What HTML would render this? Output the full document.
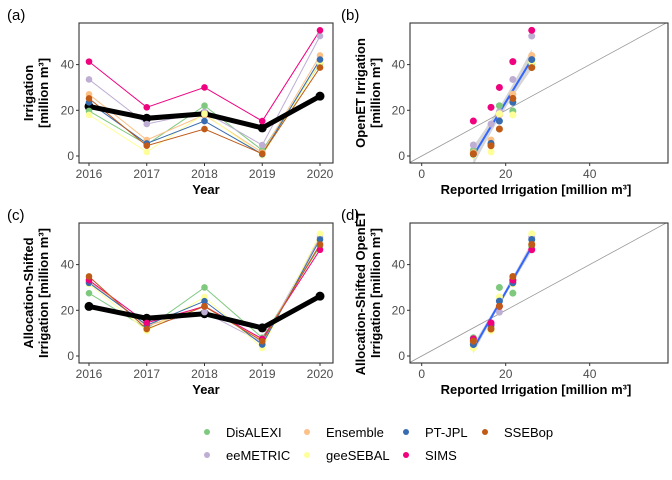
<!DOCTYPE html>
<html><head><meta charset="utf-8">
<style>
body{margin:0;background:#fff;}
svg{display:block;font-family:"Liberation Sans",Arial,sans-serif;}
.tick{font-size:12px;fill:#4d4d4d;}
.ttl{font-size:13px;font-weight:bold;fill:#000;}
.tag{font-size:15px;fill:#000;}
.leg{font-size:13px;fill:#000;}
</style></head>
<body>
<svg id="chart" width="672" height="480" viewBox="0 0 672 480" xmlns="http://www.w3.org/2000/svg"></svg>
<script>
const years=[2016,2017,2018,2019,2020];
const reported=[21.7,16.5,18.5,12.3,26.2];
const models=["DisALEXI","eeMETRIC","Ensemble","geeSEBAL","PT-JPL","SIMS","SSEBop"];
const colors=["#7fc97f","#beaed4","#fdc086","#ffff99","#386cb0","#f0027f","#bf5b17"];
const openet=[
 [19.7,5.0,22.0,2.5,40.5],
 [33.5,14.0,19.3,4.8,52.5],
 [27.0,7.0,18.0,1.5,44.0],
 [18.0,1.8,18.5,0.3,41.0],
 [23.5,5.5,15.3,0.8,42.2],
 [41.3,21.3,30.0,15.3,55.0],
 [25.2,4.5,11.8,1.0,38.7]];
const shifted=[
 [27.5,12.0,30.0,8.0,48.0],
 [32.5,13.5,19.2,6.0,52.0],
 [33.0,13.0,22.0,7.0,49.0],
 [31.5,11.0,25.8,3.5,53.5],
 [32.0,13.5,24.0,5.0,51.0],
 [33.2,14.5,21.7,7.5,46.5],
 [34.8,11.8,21.7,6.5,48.8]];
const yTicks=[0,20,40];
const xTicksB=[0,20,40];
const legOrder=[["DisALEXI","Ensemble","PT-JPL","SSEBop"],["eeMETRIC","geeSEBAL","SIMS"]];

const svg=document.getElementById('chart');
const NS="http://www.w3.org/2000/svg";
function mk(tag,attrs,parent,name){const e=document.createElementNS(NS,tag);for(const k in attrs)e.setAttribute(k,attrs[k]);
 
 
 (parent||svg).appendChild(e);return e;}
function txt(s,attrs,parent,name){const e=mk('text',attrs,parent,name);e.textContent=s;return e;}

function panel(top,data,isLine,label,ytitle,xtitle,pname){
 const g=mk('g',{},svg,pname);
 const L=isLine?79:410,R=isLine?333:668,T=top,B=top+140;
 const y0=top+133, yk=2.285;
 const ys=v=>y0-v*yk;
 let xs;
 if(isLine){xs=yr=>89+(yr-2016)*57.75;}else{xs=v=>421.7+v*4.2;}
 const cid='clip'+pname;
 const cp=mk('clipPath',{id:cid},g,'clip');mk('rect',{x:L,y:T,width:R-L,height:B-T},cp,'clip-rect');
 yTicks.forEach(t=>{mk('line',{x1:L-3,x2:L,y1:ys(t),y2:ys(t),stroke:'#333'},g,'y-tick');
  txt(t,{x:L-5,y:ys(t)+4,'text-anchor':'end',class:'tick'},g,'y-tick-label');});
 if(isLine){years.forEach(yr=>{mk('line',{x1:xs(yr),x2:xs(yr),y1:B,y2:B+3,stroke:'#333'},g,'x-tick');
  txt(yr,{x:xs(yr),y:B+15,'text-anchor':'middle',class:'tick'},g,'x-tick-label');});}
 else{xTicksB.forEach(t=>{mk('line',{x1:xs(t),x2:xs(t),y1:B,y2:B+3,stroke:'#333'},g,'x-tick');
  txt(t,{x:xs(t),y:B+15,'text-anchor':'middle',class:'tick'},g,'x-tick-label');});}
 const pg=mk('g',{'clip-path':'url(#'+cid+')'},g,'plot-area');
 if(isLine){
  models.forEach((m,i)=>{const pts=years.map((yr,j)=>xs(yr)+','+ys(data[i][j])).join(' ');
   mk('polyline',{points:pts,fill:'none',stroke:colors[i],'stroke-width':1},pg,'line-'+m);});
  mk('polyline',{points:years.map((yr,j)=>xs(yr)+','+ys(reported[j])).join(' '),fill:'none',stroke:'#000','stroke-width':5},pg,'line-reported');
  years.forEach((yr,j)=>mk('circle',{cx:xs(yr),cy:ys(reported[j]),r:4.5,fill:'#000'},pg,'point-reported'));
  models.forEach((m,i)=>years.forEach((yr,j)=>mk('circle',{cx:xs(yr),cy:ys(data[i][j]),r:3.3,fill:colors[i]},pg,'point-'+m)));
 }else{
  mk('line',{x1:xs(-5),y1:ys(-5),x2:xs(70),y2:ys(70),stroke:'#999','stroke-width':0.8},pg,'one-to-one-line');
  // regression on all points
  const X=[],Y=[];data.forEach(row=>row.forEach((v,j)=>{X.push(reported[j]);Y.push(v);}));
  const n=X.length;
  const mx=X.reduce((a,b)=>a+b)/n,my=Y.reduce((a,b)=>a+b)/n;
  let sxx=0,sxy=0;X.forEach((x,j)=>{sxx+=(x-mx)**2;sxy+=(x-mx)*(Y[j]-my);});
  const b=sxy/sxx,a=my-b*mx;let sse=0;X.forEach((x,j)=>{sse+=(Y[j]-a-b*x)**2;});
  const s=Math.sqrt(sse/(n-2)),tq=2.035;
  const xmin=Math.min(...reported),xmax=Math.max(...reported);
  const up=[],lo=[];for(let k=0;k<=40;k++){const x=xmin+(xmax-xmin)*k/40;const f=a+b*x;const se=s*Math.sqrt(1/n+(x-mx)**2/sxx)*tq;
   up.push(xs(x)+','+ys(f+se));lo.unshift(xs(x)+','+ys(f-se));}
  mk('polygon',{points:up.concat(lo).join(' '),fill:'#999','fill-opacity':0.4},pg,'confidence-band');
  mk('line',{x1:xs(xmin),y1:ys(a+b*xmin),x2:xs(xmax),y2:ys(a+b*xmax),stroke:'#3366ff','stroke-width':2},pg,'regression-line');
  models.forEach((m,i)=>reported.forEach((r,j)=>mk('circle',{cx:xs(r),cy:ys(data[i][j]),r:3.5,fill:colors[i]},pg,'point-'+m)));
 }
 mk('rect',{x:L,y:T,width:R-L,height:B-T,fill:'none',stroke:'#333','stroke-width':1.1},g,'panel-border');
 txt(label,{x:isLine?7:341,y:top-3,class:'tag'},g,'panel-tag');
 const cx=isLine?33:365, cy=top+70;
 const tg=mk('text',{transform:`translate(${cx},${cy}) rotate(-90)`,'text-anchor':'middle',class:'ttl'},g,'y-axis-title');
 ytitle.forEach((l,k)=>{const ts=mk('tspan',{x:0,dy:k?15:0},tg,'y-title-line');ts.textContent=l;});
 txt(xtitle,{x:isLine?206:536,y:B+31,'text-anchor':'middle',class:'ttl'},g,'x-axis-title');
}
panel(23,openet,true,'(a)',['Irrigation','[million m³]'],'Year','panel-a');
panel(23,openet,false,'(b)',['OpenET Irrigation','[million m³]'],'Reported Irrigation [million m³]','panel-b');
panel(223,shifted,true,'(c)',['Allocation-Shifted','Irrigation [million m³]'],'Year','panel-c');
panel(223,shifted,false,'(d)',['Allocation-Shifted OpenET','Irrigation [million m³]'],'Reported Irrigation [million m³]','panel-d');

const lg=mk('g',{},svg,'legend');
const lx=[207,307,406,485];
legOrder.forEach((row,r)=>row.forEach((m,c)=>{const i=models.indexOf(m);const y=432+r*23;
 const e=mk('g',{},lg,'legend-entry');
 mk('circle',{cx:lx[c],cy:y,r:3,fill:colors[i]},e,'legend-key');
 txt(m,{x:lx[c]+19,y:y+5,class:'leg'},e,'legend-label');}));
</script>
</body></html>
